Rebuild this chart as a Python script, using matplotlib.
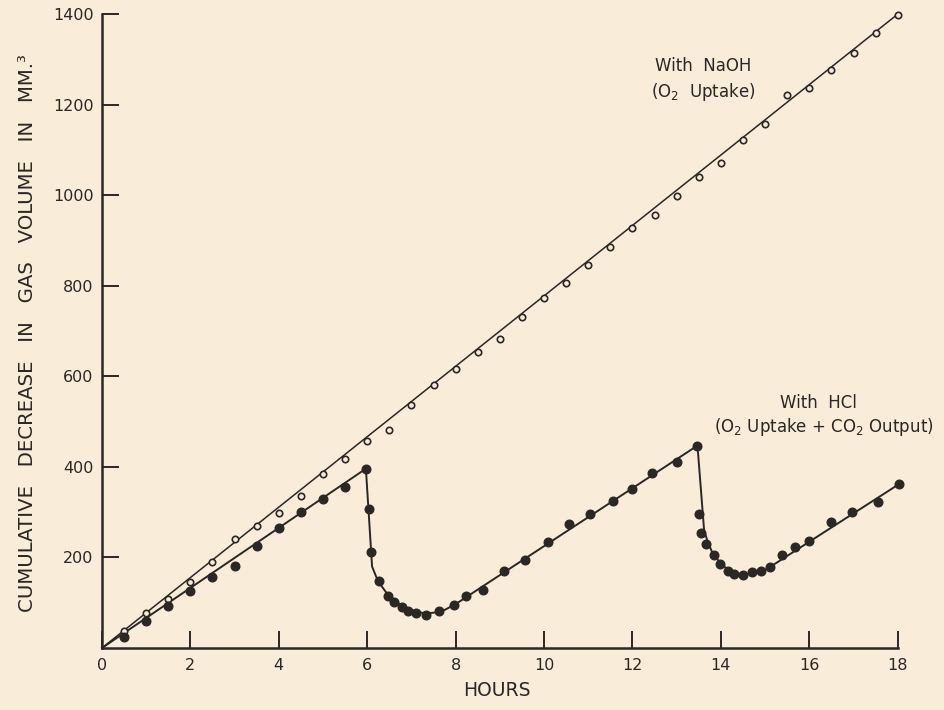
import matplotlib
matplotlib.use("Agg")
import matplotlib.pyplot as plt

# ---- data ----
naoh_hours = [0.5, 1.0, 1.5, 2.0, 2.5, 3.0, 3.5, 4.0, 4.5, 5.0, 5.5, 6.0, 6.5, 7.0, 7.5, 8.0,
              8.5, 9.0, 9.5, 10.0, 10.5, 11.0, 11.5, 12.0, 12.5, 13.0, 13.5, 14.0, 14.5,
              15.0, 15.5, 16.0, 16.5, 17.0, 17.5, 18.0]
naoh_values = [38, 78, 109, 146, 190, 240, 269, 298, 336, 384, 417, 457, 481, 537, 580, 617,
               654, 683, 732, 773, 806, 846, 886, 928, 957, 997, 1040, 1071, 1121,
               1158, 1221, 1237, 1277, 1313, 1358, 1398]

naoh_fit_hours = [0, 18.03]
naoh_fit_values = [0, 1402]

hcl_hours = [0.5, 1.0, 1.5, 2.0, 2.5, 3.0, 3.5, 4.0, 4.5, 5.0, 5.5, 5.97,
             6.03, 6.08, 6.27, 6.47, 6.61, 6.78, 6.93, 7.11, 7.33, 7.62, 7.97, 8.24, 8.62,
             9.1, 9.57, 10.08, 10.56, 11.03, 11.55, 12.0, 12.45, 13.0, 13.47,
             13.5, 13.55, 13.66, 13.84, 13.97, 14.15, 14.3, 14.5, 14.7, 14.91, 15.12,
             15.38, 15.68, 16.0, 16.48, 16.97, 17.55, 18.03]
hcl_values = [25, 60, 93, 125, 156, 181, 226, 265, 300, 329, 355, 395,
              308, 212, 148, 115, 102, 90, 82, 77, 74, 81, 95, 115, 129,
              170, 194, 234, 273, 296, 325, 352, 386, 411, 446,
              297, 253, 229, 205, 185, 170, 163, 161, 167, 170, 179,
              205, 222, 236, 278, 300, 323, 362]

hcl_fit_hours = [0, 5.97, 6.11, 6.2, 6.3, 6.45, 6.65, 6.9, 7.15, 7.35, 7.55, 7.75, 8.0,
                 13.47, 13.62, 13.7, 13.8, 13.95, 14.1, 14.3, 14.5, 14.75, 15.0, 18.03]
hcl_fit_values = [0, 396, 180, 158, 140, 120, 102, 88, 79, 76.5, 78.5, 84, 97,
                  447, 260, 235, 212, 192, 178, 167, 162, 165, 172, 362]

x_ticks = [0, 2, 4, 6, 8, 10, 12, 14, 16, 18]
y_ticks = [200, 400, 600, 800, 1000, 1200, 1400]

# ---- style ----
bg = "#f9ecd8"
ink = "#2b2724"
plt.rcParams['font.family'] = ['DejaVu Sans']

fig = plt.figure(figsize=(9.44, 7.10), dpi=100, facecolor=bg)
ax = fig.add_axes([0.108, 0.0873, 0.843, 0.893])
ax.set_facecolor(bg)

ax.plot(naoh_fit_hours, naoh_fit_values, color=ink, lw=1.1, zorder=2, clip_on=False)
ax.plot(hcl_fit_hours, hcl_fit_values, color=ink, lw=1.4, zorder=2, clip_on=False)
ax.plot(naoh_hours, naoh_values, linestyle='none', marker='o', markersize=4.6,
        markerfacecolor=bg, markeredgecolor=ink, markeredgewidth=1.2, zorder=3,
        clip_on=False)
ax.plot(hcl_hours, hcl_values, linestyle='none', marker='o', markersize=6.2,
        markerfacecolor=ink, markeredgecolor=ink, zorder=3, clip_on=False)

ax.set_xlim(0, 18)
ax.set_ylim(0, 1400)
for s in ['top', 'right']:
    ax.spines[s].set_visible(False)
for s in ['left', 'bottom']:
    ax.spines[s].set_linewidth(1.8)
    ax.spines[s].set_color(ink)

ax.set_xticks(x_ticks)
ax.set_xticklabels([str(t) for t in x_ticks])
ax.set_yticks(y_ticks)
ax.set_yticklabels([str(t) for t in y_ticks])
ax.tick_params(axis='both', direction='in', length=12, width=1.4, color=ink,
               labelcolor=ink, labelsize=11.5)
ax.tick_params(axis='x', pad=7)
ax.tick_params(axis='y', pad=6)

fig.text(0.029, 0.531, "CUMULATIVE   DECREASE   IN   GAS   VOLUME   IN   MM.³",
         rotation=90, ha='center', va='center', fontsize=14.2, color=ink)
fig.text(0.526, 0.028, "HOURS", ha='center', va='center', fontsize=13.5, color=ink)

ax.text(13.6, 1285, "With  NaOH", ha='center', va='center', fontsize=12,
        color=ink)
ax.text(13.6, 1228, r"(O$_\mathregular{2}$  Uptake)", ha='center', va='center',
        fontsize=12, color=ink)
ax.text(16.2, 542, "With  HCl", ha='center', va='center', fontsize=12,
        color=ink)
ax.text(16.33, 487, r"(O$_\mathregular{2}$ Uptake + CO$_\mathregular{2}$ Output)",
        ha='center', va='center', fontsize=12, color=ink)

fig.savefig("out.png", dpi=100, facecolor=bg)
